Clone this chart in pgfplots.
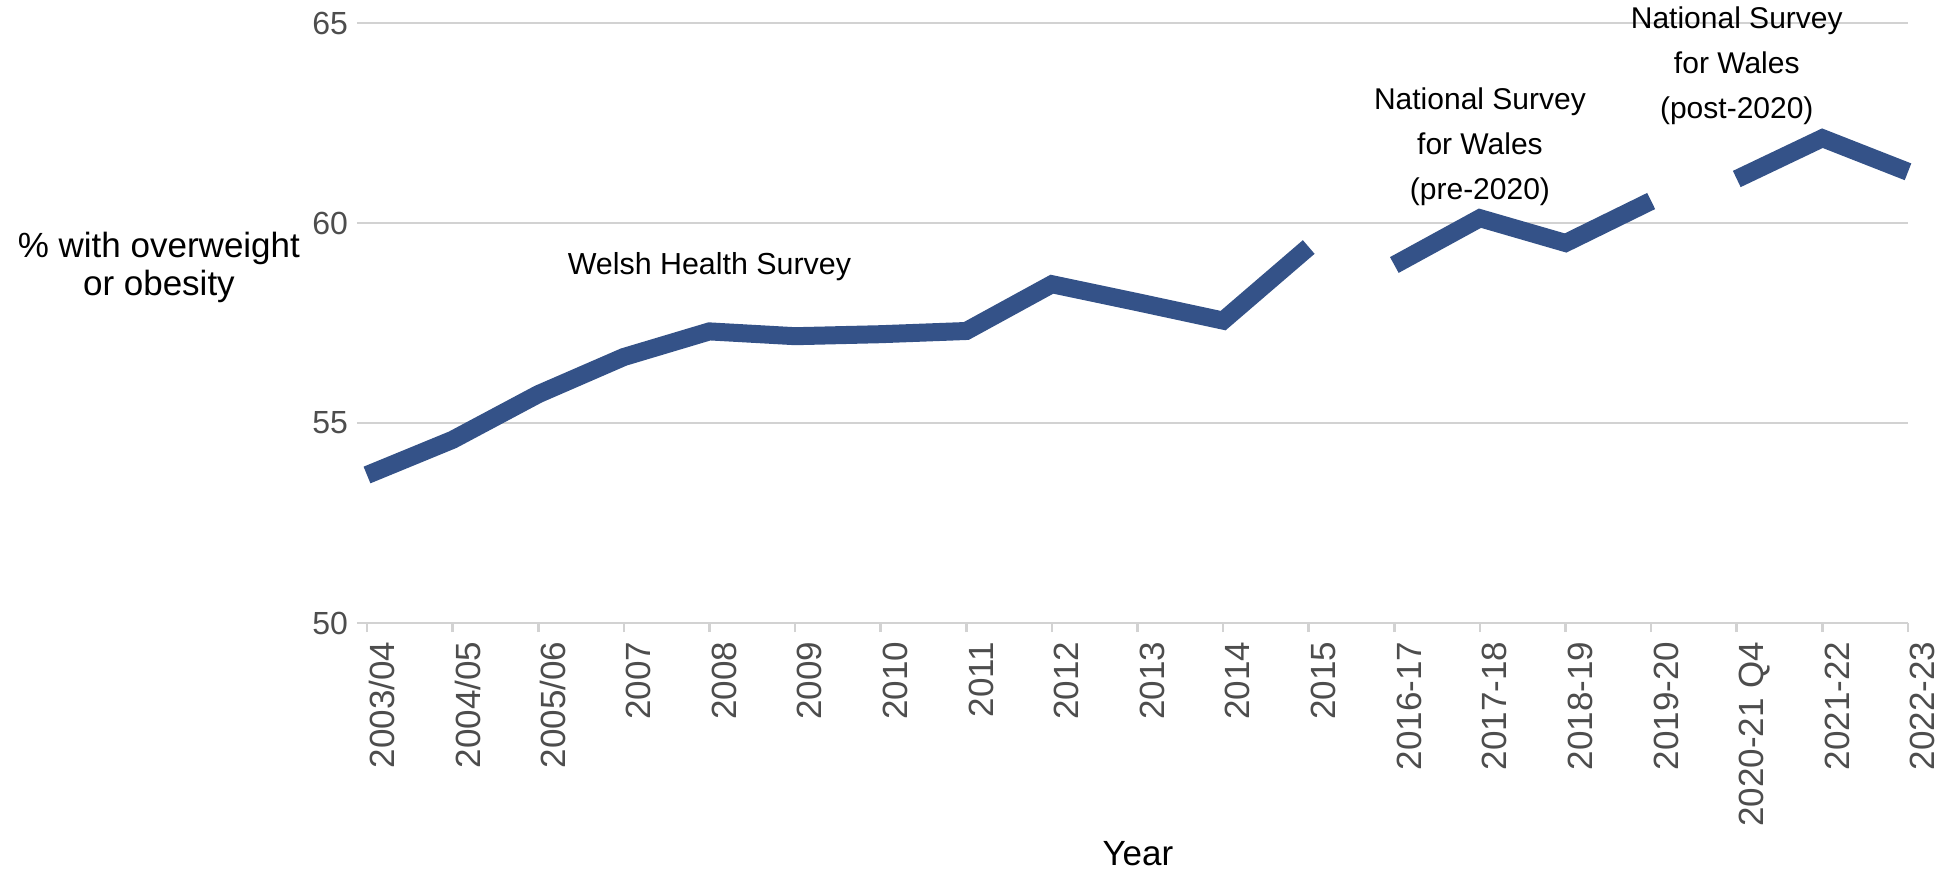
\documentclass[border=0pt]{standalone}
\usepackage{fontspec}
\setmainfont{Liberation Sans}
\usepackage{pgfplots}
\pgfplotsset{compat=1.18}
\definecolor{linecol}{RGB}{52,82,136}
\definecolor{gridcol}{RGB}{210,210,210}
\definecolor{tickcol}{RGB}{77,77,77}
\begin{document}
\begin{tikzpicture}
\begin{axis}[
  at={(0,0)}, anchor=south west,
  scale only axis,
  width=775.5pt, height=300pt,
  xmin=-0.117, xmax=18, ymin=50, ymax=65,
  axis x line*=bottom, axis y line*=left,
  axis line style={draw=gridcol, line width=1.4pt},
  y axis line style={draw=none},
  xtick={0,...,18},
  xticklabels={2003/04,2004/05,2005/06,2007,2008,2009,2010,2011,2012,2013,2014,2015,2016-17,2017-18,2018-19,2019-20,2020-21 Q4,2021-22,2022-23},
  xtick align=outside,
  ytick align=inside,
  major tick length=4.5pt,
  xtick style={draw=gridcol, line width=1.3pt},
  ytick={50,55,60,65},
  ytick style={draw=none},
  ymajorgrids,
  major grid style={draw=gridcol, line width=1.4pt},
  xticklabel style={rotate=90, anchor=north east, inner ysep=1pt, inner xsep=4.7pt, font=\fontsize{17.5}{20}\selectfont, text=tickcol},
  yticklabel style={font=\fontsize{16}{18}\selectfont, text=tickcol, inner xsep=4.35pt},
  /pgf/number format/assume math mode=true,
  xlabel={Year},
  xlabel style={at={(axis description cs:0.5035,-0.384)}, anchor=center, font=\fontsize{17.5}{20}\selectfont},
  ylabel={\% with overweight\\or obesity},
  ylabel style={rotate=-90, align=center, at={(axis description cs:-0.1277,0.5925)}, anchor=center, font=\fontsize{17.5}{19}\selectfont},
  clip=false,
]
% Welsh Health Survey
\addplot[draw=linecol, line width=9pt, line cap=butt, line join=miter] coordinates {
 (0,53.7) (1,54.58) (2,55.72) (3,56.65) (4,57.29) (5,57.17) (6,57.22) (7,57.3) (8,58.47) (9,58.02) (10,57.56) (11,59.4)
};
% National Survey for Wales (pre-2020)
\addplot[draw=linecol, line width=9pt, line cap=butt, line join=miter] coordinates {
 (12,58.95) (13,60.12) (14,59.5) (15,60.55)
};
% National Survey for Wales (post-2020)
\addplot[draw=linecol, line width=9pt, line cap=butt, line join=miter] coordinates {
 (16,61.1) (17,62.12) (18,61.28)
};
\node[font=\fontsize{15.2}{22.5}\selectfont, anchor=base] at (axis cs:4,58.72) {Welsh Health Survey};
\node[font=\fontsize{15}{22.5}\selectfont, align=center, anchor=center] at (axis cs:13,61.90) {National Survey\\for Wales\\(pre-2020)};
\node[font=\fontsize{15}{22.5}\selectfont, align=center, anchor=center] at (axis cs:16,63.93) {National Survey\\for Wales\\(post-2020)};
\end{axis}
\pgfresetboundingbox
\path[use as bounding box] (-178.5pt,-124.5pt) rectangle (791pt,311.5pt);
\end{tikzpicture}
\end{document}
